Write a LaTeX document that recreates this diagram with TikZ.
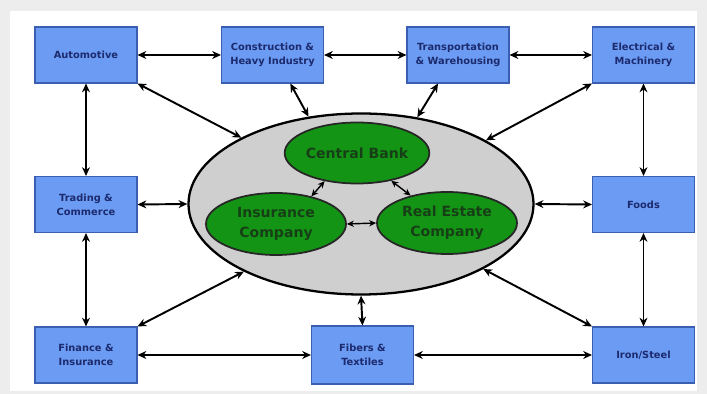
\documentclass[tikz,border=0pt]{standalone}
\usepackage{fontspec}
\setmainfont{DejaVu Sans}
\usepackage{xcolor}
\usepackage{tikz}
\usetikzlibrary{shapes.geometric, arrows.meta, positioning}

\definecolor{sectorblue}{HTML}{6B9BF2}
\definecolor{sectorline}{HTML}{3A5FB0}
\definecolor{sectortext}{HTML}{1C2A6E}
\definecolor{bankgreen}{HTML}{149414}
\definecolor{banktext}{HTML}{173F17}

\begin{document}
\begin{tikzpicture}[
    sector/.style={rectangle, draw=sectorline, line width=0.6pt, fill=sectorblue, minimum width=2.04cm, minimum height=1.12cm, align=center, text=sectortext, font=\fontsize{5.6}{8}\selectfont\bfseries},
    core/.style={ellipse, draw=black, line width=1.3pt, fill=black!19, minimum width=6.9cm, minimum height=3.62cm},
    inst/.style={ellipse, draw=black!85, line width=1pt, fill=bankgreen, minimum width=2.8cm, minimum height=1.22cm, inner sep=0pt, align=center, text=banktext, font=\fontsize{8}{11.4}\selectfont\bfseries},
    link/.style={line width=1.1pt, {Stealth[length=5pt,width=4.5pt]}-{Stealth[length=5pt,width=4.5pt]}},
    thinlink/.style={line width=0.8pt, {Stealth[length=4pt,width=3.6pt]}-{Stealth[length=4pt,width=3.6pt]}}
]

% Page
\useasboundingbox (0,0) rectangle (14.14,7.88);
\fill[black!7] (0,0) rectangle (14.14,7.88);
\fill[white] (0.2,0.06) rectangle (13.94,7.66);

% Sectors
\node[sector] (auto) at (1.72, 6.78) {Automotive};
\node[sector] (cons) at (5.45, 6.78) {Construction \&\\Heavy Industry};
\node[sector] (trans) at (9.16, 6.78) {Transportation\\\& Warehousing};
\node[sector] (elec) at (12.87, 6.78) {Electrical \&\\Machinery};
\node[sector] (trade) at (1.72, 3.79) {Trading \&\\Commerce};
\node[sector] (foods) at (12.87, 3.79) {Foods};
\node[sector] (fin) at (1.72, 0.78) {Finance \&\\Insurance};
\node[sector, minimum height=1.16cm] (fibers) at (7.25, 0.78) {Fibers \&\\Textiles};
\node[sector] (iron) at (12.87, 0.78) {Iron/Steel};

% Banking core
\node[core] (bank) at (7.22, 3.80) {};
\node[inst] (cb) at (7.14, 4.82) {Central Bank};
\node[inst, minimum height=1.24cm] (ins) at (5.52, 3.40) {Insurance\\Company};
\node[inst, minimum height=1.24cm] (re) at (8.94, 3.42) {Real Estate\\Company};

% Sector ring
\foreach \a/\b in {auto/cons, cons/trans, trans/elec, fin/fibers, fibers/iron}
    \draw[link] (\a.east) -- (\b.west);
\foreach \a/\b in {auto/trade, trade/fin, elec/foods, foods/iron}
    \draw[link] (\a.south) -- (\b.north);

% Sectors to the core
\draw[link] (auto.south east) -- (bank.151);
\draw[link] (cons.-58) -- (bank.121);
\draw[link] (trans.-125) -- (bank.57);
\draw[link] (elec.south west) -- (bank.27);
\draw[link] (trade.east) -- (bank.west);
\draw[link] (foods.west) -- (bank.east);
\draw[link] (fin.north east) -- (bank.210);
\draw[link] (iron.north west) -- (bank.332);
\draw[link] (fibers.north) -- (bank.south);

% Inside the core
\draw[thinlink] (cb.221) -- (ins.38);
\draw[thinlink] (cb.-39) -- (re.143);
\draw[thinlink] (ins.east) -- (re.west);

\end{tikzpicture}
\end{document}
